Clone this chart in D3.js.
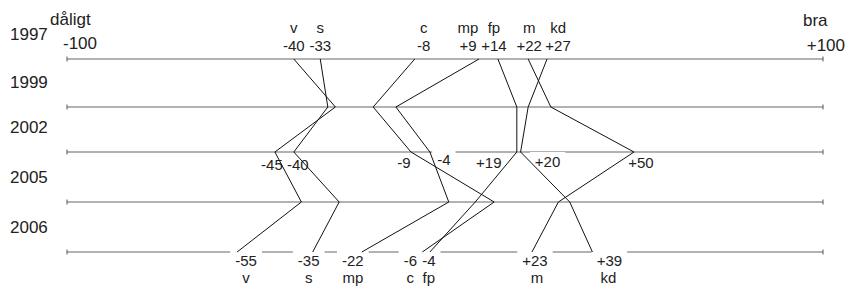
<!DOCTYPE html>
<html>
<head>
<meta charset="utf-8">
<script src="https://cdn.jsdelivr.net/npm/d3@7"></script>
<style>
  body { margin: 0; background: #fff; }
  text { font-family: "Liberation Sans", Arial, Helvetica, sans-serif; fill: #222; }
</style>
</head>
<body>
<script>
// data
var years = [1997, 1999, 2002, 2005, 2006];
var parties = ["v", "s", "c", "mp", "fp", "m", "kd"];
var vScores  = [-40, -29, -45, -38, -55];
var sScores  = [-33, -31, -40, -28, -35];
var cScores  = [-8, -19, -9, 13, -6];
var mpScores = [9, -13, -4, 1, -22];
var fpScores = [14, 19, 19, 8, -4];
var mScores  = [22, 28, 50, 30, 23];
var kdScores = [27, 22, 20, 33, 39];
var scaleEnds = ["-100", "+100"];
var scaleWords = ["dåligt", "bra"];

var series = [vScores, sScores, cScores, mpScores, fpScores, mScores, kdScores]
  .map(function(vals, i) {
    return { party: parties[i], values: vals.map(function(v, j) { return { year: years[j], value: v }; }) };
  });

// label nudges so they don't collide (layout only)
var topDx = { v: 0, s: 0, c: 9, mp: -11, fp: -4, m: 1, kd: 11 };
var midDx = { v: -3, s: 4, c: -7, mp: 14, fp: -28, m: 7, kd: 27 };
var midDy = { v: 18, s: 18, c: 16, mp: 13, fp: 16, m: 16, kd: 15 };
var midBg = { mp: true, m: true, kd: true };
var botDx = { v: 9, s: -4, c: -12, mp: -9, fp: -1, m: 3, kd: 17 };
var botNameDx = { v: 9, s: -4, c: -12, mp: -9, fp: -1, m: 5, kd: 16 };

var svgWidth = 846, svgHeight = 287;

var svg = d3.select("body").append("svg")
  .attr("width", svgWidth)
  .attr("height", svgHeight);

var x = d3.scaleLinear().domain([-100, 100]).range([67, 823]);
var y = d3.scaleOrdinal().domain(years).range([59, 107, 152, 202, 252]);

var fmt = function(v) { return v > 0 ? "+" + v : String(v); };

// rows
var rows = svg.append("g").attr("class", "rows");
years.forEach(function(yr) {
  var g = rows.append("g").attr("transform", "translate(0," + y(yr) + ")");
  g.append("line")
    .attr("x1", x(-100)).attr("x2", x(100))
    .attr("stroke", "#999").attr("stroke-width", 1.5);
  [-100, 100].forEach(function(t) {
    g.append("line")
      .attr("x1", x(t)).attr("x2", x(t))
      .attr("y1", -2.5).attr("y2", 2.5)
      .attr("stroke", "#555").attr("stroke-width", 1);
  });
  svg.append("text")
    .attr("x", 10).attr("y", y(yr) - 19)
    .style("font-size", "17px")
    .text(yr);
});

// scale end words
svg.append("text").attr("x", 50).attr("y", 25).style("font-size", "17px").text(scaleWords[0]);
svg.append("text").attr("x", 63).attr("y", 49).style("font-size", "17px").text(scaleEnds[0]);
svg.append("text").attr("x", 803).attr("y", 26).style("font-size", "17px").text(scaleWords[1]);
svg.append("text").attr("x", 845).attr("y", 51).attr("text-anchor", "end").style("font-size", "17px").text(scaleEnds[1]);

var labels = svg.append("g").attr("class", "labels").style("font-size", "15px").attr("text-anchor", "middle");

// white boxes behind the lower labels (they cut the row line)
var boxes = svg.insert("g", ".labels");
function box(cx, base, w) {
  boxes.append("rect")
    .attr("x", cx - w / 2 - 5).attr("y", base - 15)
    .attr("width", w + 10).attr("height", 18)
    .attr("fill", "#fff");
}

// party lines
var line = d3.line()
  .x(function(d) { return x(d.value); })
  .y(function(d) { return y(d.year); });

svg.append("g").selectAll("path")
  .data(series)
  .enter().append("path")
  .attr("d", function(d) { return line(d.values); })
  .attr("fill", "none")
  .attr("stroke", "#111")
  .attr("stroke-width", 1);

// 1997: name over value
series.forEach(function(s) {
  var v = s.values[0].value;
  var cx = x(v) + topDx[s.party];
  labels.append("text").attr("x", cx).attr("y", 33).text(s.party);
  labels.append("text").attr("x", cx).attr("y", 51).text(fmt(v));
});

// 2002: value only
series.forEach(function(s) {
  var v = s.values[2].value;
  var cx = x(v) + midDx[s.party];
  var base = y(2002) + midDy[s.party];
  var t = labels.append("text").attr("x", cx).attr("y", base).text(fmt(v));
  if (midBg[s.party]) box(cx, base, t.node().getComputedTextLength());
});

// 2006: value then name
series.forEach(function(s) {
  var v = s.values[4].value;
  var cx = x(v) + botDx[s.party];
  var base = y(2006) + 14;
  var t = labels.append("text").attr("x", cx).attr("y", base).text(fmt(v));
  box(cx, base, t.node().getComputedTextLength());
  labels.append("text").attr("x", x(v) + botNameDx[s.party]).attr("y", 283).text(s.party);
});
</script>
</body>
</html>
